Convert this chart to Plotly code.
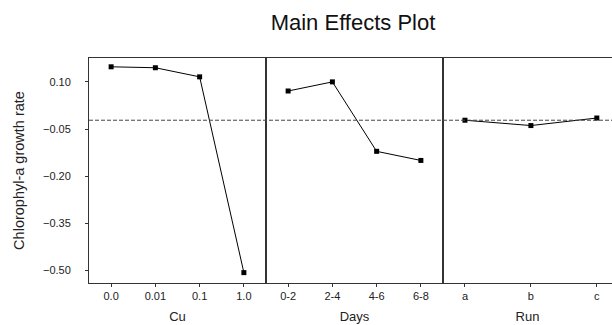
import plotly.graph_objects as go

cu_levels = ["0.0", "0.01", "0.1", "1.0"]
cu_means = [0.148, 0.145, 0.116, -0.507]
days_levels = ["0-2", "2-4", "4-6", "6-8"]
days_means = [0.071, 0.100, -0.121, -0.150]
run_levels = ["a", "b", "c"]
run_means = [-0.022, -0.039, -0.015]
grand_mean = -0.022
y_ticks = [0.10, -0.05, -0.20, -0.35, -0.50]

FONT = "Liberation Sans, Arial, sans-serif"
LINE = "#333333"

fig = go.Figure()
panels = [(cu_levels, cu_means, "Cu"), (days_levels, days_means, "Days"), (run_levels, run_means, "Run")]
W = 523.0
doms = [[0, 177 / W], [177 / W, 354 / W], [354 / W, 1]]
xranges = [[-0.5, 3.5], [-0.5, 3.5], [-0.333, 2.23]]

for i, (lv, mv, name) in enumerate(panels):
    n = "" if i == 0 else str(i + 1)
    fig.add_trace(go.Scatter(x=lv, y=mv, mode="lines+markers", xaxis="x" + n, yaxis="y" + n,
                             line=dict(color="black", width=1),
                             marker=dict(symbol="square", size=5, color="black"),
                             showlegend=False, hoverinfo="skip"))
    fig.layout["xaxis" + n] = dict(domain=doms[i], type="category", range=xranges[i],
                                   showline=True, mirror=True, linecolor=LINE, linewidth=1,
                                   ticks="outside", ticklen=3, tickcolor=LINE,
                                   showgrid=False, zeroline=False,
                                   tickfont=dict(family=FONT, size=11, color="#222"),
                                   title=dict(text=name, font=dict(family=FONT, size=13, color="#222"), standoff=10),
                                   anchor="y" + n, fixedrange=True)
    yax = dict(range=[-0.540, 0.176], showline=True, linecolor=LINE, linewidth=1,
               showgrid=False, zeroline=False, anchor="x" + n, fixedrange=True,
               tickvals=y_ticks, tickformat=".2f",
               mirror=(i < 2))
    if i == 0:
        yax.update(ticks="outside", ticklen=3, tickcolor=LINE, ticklabelstandoff=12,
                   tickfont=dict(family=FONT, size=11, color="#222"),
                   title=dict(text="Chlorophyl-a growth rate", font=dict(family=FONT, size=14.5, color="#222"), standoff=14))
    else:
        yax.update(showticklabels=False, ticks="", matches="y")
    fig.layout["yaxis" + n] = yax

fig.add_shape(type="line", xref="paper", yref="y", x0=0, x1=1, y0=grand_mean, y1=grand_mean,
              line=dict(color="#444", width=1, dash="4px,2px"))

fig.update_layout(width=612, height=325, margin=dict(l=89, r=0, t=58, b=42),
                  paper_bgcolor="white", plot_bgcolor="white",
                  title=dict(text="Main Effects Plot", x=353 / 612, xanchor="center", y=1 - 22 / 325, yanchor="middle",
                             font=dict(family=FONT, size=22, color="#111")))

fig.write_html("out.html")
